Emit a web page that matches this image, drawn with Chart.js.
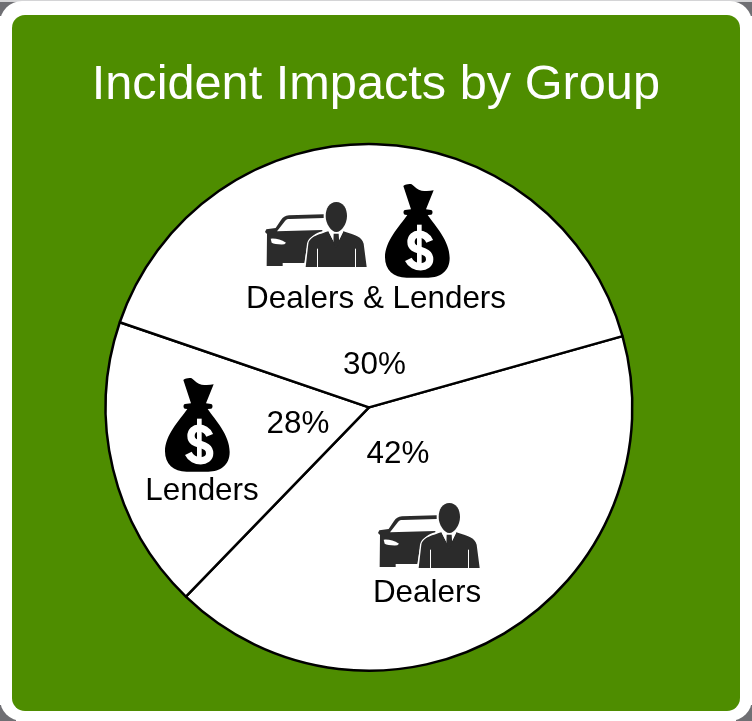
<!DOCTYPE html>
<html><head><meta charset="utf-8">
<style>
html,body{margin:0;padding:0;width:752px;height:721px;overflow:hidden;background:#fff}
#top{position:absolute;left:0;top:0;width:752px;height:2px;background:#d4d4d6}
.c{position:absolute;width:16px;height:16px;background:#6f6f73}
#card{position:absolute;left:0;top:1px;width:752px;height:720px;background:#fff;border-radius:22px}
#green{position:absolute;left:12px;top:15px;width:728px;height:696px;background:#4e8d00;border-radius:13px}
canvas{position:absolute;left:0;top:0}
</style></head><body>
<div class="c" style="left:0;top:0"></div><div class="c" style="right:0;top:0"></div>
<div class="c" style="left:0;bottom:0"></div><div class="c" style="right:0;bottom:0"></div>
<div id="top"></div><div id="card"></div><div id="green"></div>
<canvas id="chart" width="752" height="721"></canvas>
<script src="https://cdn.jsdelivr.net/npm/chart.js@4"></script>
<script>
const groups = ['Dealers', 'Lenders', 'Dealers & Lenders'];
const wedgeValues = [41.6, 18, 40.4];
const shownPercents = ['42%', '28%', '30%'];
const chartTitle = 'Incident Impacts by Group';

const font = '"Liberation Sans", Arial, sans-serif';

function P(d){ return new Path2D(d); }
const bagBody = P('M55 6 C62 1 72 -1 80 1 C90 8 98 19 110 20 C122 21 135 21 146 19 L123 76 L138 78 C144 79 144 91 138 92 L128 93 C150 125 194 170 194 222 C194 262 165 281 130 281 L65 281 C25 281 0 258 0 220 C0 170 45 125 67 93 L60 92 C54 91 54 79 60 78 L78 76 Z');
const carBody = P('M176 37 L72 40 C60 41 54 46 48 54 L32 78 L4 82 L0 90 L6 96 L5 192 L53 192 L53 183 L118 183 L125 140 C135 105 150 92 172 88 L172 84 L36 88 L60 57 C64 52 68 51 75 51 L176 48 Z');
const manHead = P('M214 0 C235 0 246 20 246 42 C246 65 230 90 214 90 C198 90 182 65 182 42 C182 20 193 0 214 0 Z');
const manBody = P('M122 195 L130 125 C135 108 145 102 190 88 L213 132 L235 88 C275 100 290 105 296 125 L305 195 Z');
function drawBag(ctx, x, y){
  ctx.save(); ctx.translate(x, y); ctx.scale(1/3, 1/3);
  ctx.fillStyle = '#000'; ctx.fill(bagBody);
  ctx.strokeStyle = '#fff'; ctx.lineWidth = 22; ctx.lineCap = 'butt';
  ctx.beginPath();
  ctx.moveTo(134,172); ctx.bezierCurveTo(122,143,78,143,78,174);
  ctx.bezierCurveTo(78,208,134,190,134,226); ctx.bezierCurveTo(134,256,84,256,70,226);
  ctx.stroke();
  ctx.lineWidth = 14;
  ctx.beginPath(); ctx.moveTo(103,122); ctx.lineTo(103,256); ctx.stroke();
  ctx.restore();
}
function drawDealer(ctx, x, y){
  ctx.save(); ctx.translate(x, y); ctx.scale(1/3, 1/3);
  ctx.fillStyle = '#2b2b2b';
  ctx.fill(carBody);
  ctx.fillStyle = '#fff';
  ctx.beginPath(); ctx.moveTo(17,110); ctx.quadraticCurveTo(40,108,63,122); ctx.lineTo(58,127); ctx.quadraticCurveTo(30,128,20,122); ctx.closePath(); ctx.fill();
  ctx.strokeStyle = '#fff'; ctx.lineWidth = 8; ctx.stroke(manBody);
  ctx.fillStyle = '#2b2b2b';
  ctx.fill(manBody); ctx.fill(manHead);
  ctx.fillStyle = '#fff';
  ctx.beginPath(); ctx.moveTo(192,90); ctx.lineTo(213,133); ctx.lineTo(234,90); ctx.closePath(); ctx.fill();
  ctx.fillRect(156,140,3,56); ctx.fillRect(270,140,3,56);
  ctx.fillStyle = '#2b2b2b';
  ctx.beginPath(); ctx.moveTo(206,95); ctx.lineTo(221,95); ctx.lineTo(223,125); ctx.lineTo(213,136); ctx.lineTo(205,125); ctx.closePath(); ctx.fill();
  ctx.restore();
}

const annotations = {
  id: 'annotations',
  afterDatasetsDraw(chart){
    const ctx = chart.ctx;
    drawDealer(ctx, 265, 202); drawBag(ctx, 385, 184);
    drawBag(ctx, 165, 378);
    drawDealer(ctx, 378, 503);
    ctx.save();
    ctx.fillStyle = '#000'; ctx.font = '31.4px ' + font;
    ctx.textAlign = 'center'; ctx.textBaseline = 'middle';
    [[groups[2],376,299],[shownPercents[2],374.5,365],[groups[1],202,491],[shownPercents[1],298,424],[shownPercents[0],398,454],[groups[0],427,593]]
      .forEach(([t,x,y]) => ctx.fillText(t,x,y));
    ctx.restore();
  }
};

new Chart(document.getElementById('chart'), {
  type: 'pie',
  data: { labels: groups, datasets: [{ data: wedgeValues, backgroundColor: '#fff', borderColor: '#000', borderWidth: 2.5, hoverOffset: 0 }] },
  options: {
    responsive: false, animation: false, rotation: 74.3,
    layout: { padding: { left: 78, right: 92, top: 56, bottom: 49 } },
    plugins: {
      legend: { display: false }, tooltip: { enabled: false },
      title: { display: true, text: chartTitle, color: '#fff', align: 'end', font: { family: font, size: 48.7, weight: 'normal' }, padding: { top: 0, bottom: 28.36 } }
    }
  },
  plugins: [annotations]
});
</script></body></html>
